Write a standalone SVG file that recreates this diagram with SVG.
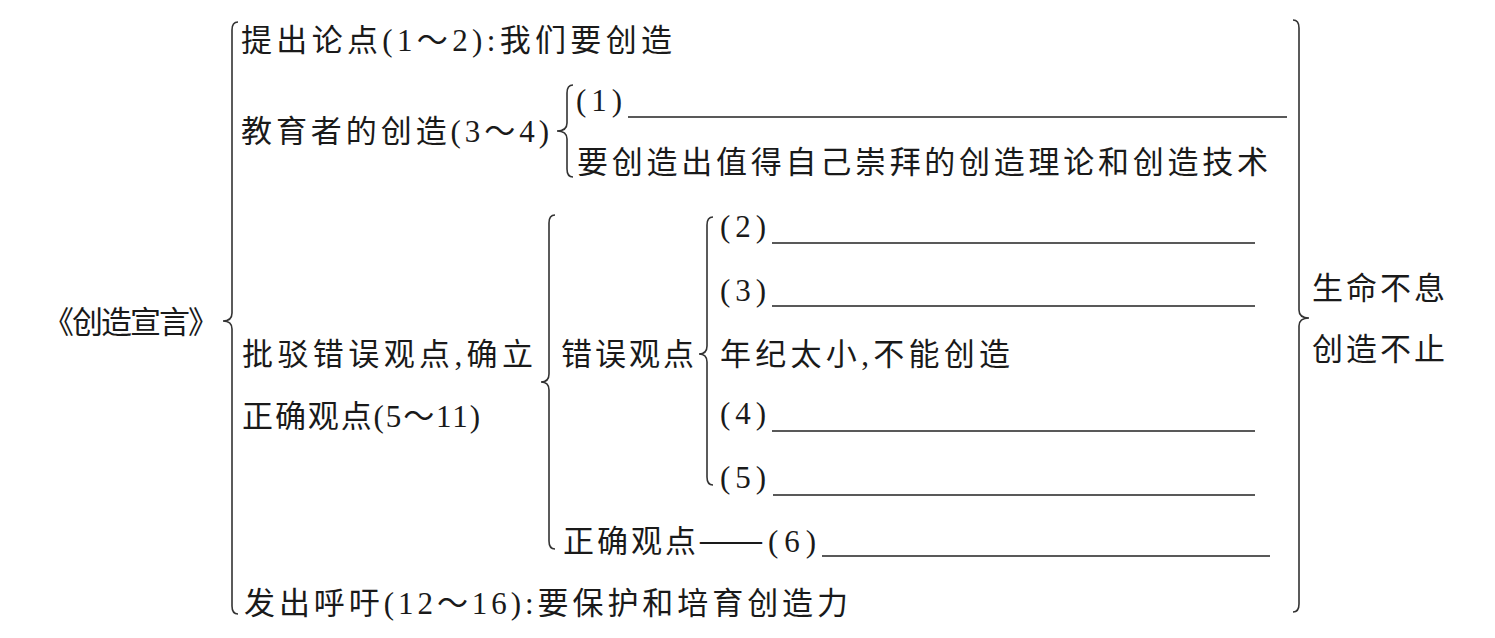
<svg xmlns="http://www.w3.org/2000/svg" width="1495" height="638" viewBox="0 0 1495 638">
<style>
text{font-family:"Liberation Serif","Noto Sans CJK SC",serif;font-size:31px;fill:#1a1a1a}
.brace{fill:none;stroke:#333;stroke-width:1.6}
.blank{stroke:#222;stroke-width:1.6}
</style>
<rect width="1495" height="638" fill="#fff"/>
<g id="connectors">
<path class="brace" d="M238 22 Q232 22 232 30 L232 313 Q232 321 223 321 Q232 321 232 329 L232 606 Q232 614 238 614"/>
<path class="brace" d="M573 85 Q567 85 567 93 L567 123 Q567 131 557 131 Q567 131 567 139 L567 169 Q567 177 573 177"/>
<path class="brace" d="M555 215 Q549 215 549 223 L549 374 Q549 382 541 382 Q549 382 549 390 L549 541 Q549 549 555 549"/>
<path class="brace" d="M713 217 Q707 217 707 225 L707 346 Q707 354 699 354 Q707 354 707 362 L707 477 Q707 485 713 485"/>
<path class="brace" d="M1293 20 Q1299 20 1299 28 L1299 310 Q1299 318 1309 318 Q1299 318 1299 326 L1299 604 Q1299 612 1293 612"/>
</g>
<g id="root"><text x="43" y="333" textLength="176" lengthAdjust="spacing">《创造宣言》</text></g>
<g id="n-tichu"><text x="241" y="51" textLength="431" lengthAdjust="spacing">提出论点(1～2):我们要创造</text></g>
<g id="n-jiaoyu"><text x="241" y="142" textLength="308" lengthAdjust="spacing">教育者的创造(3～4)</text></g>
<g id="n-1"><text x="576" y="111" textLength="46" lengthAdjust="spacing">(1)</text><line class="blank" x1="628" y1="117" x2="1287" y2="117"/></g>
<g id="n-yao"><text x="577" y="173" textLength="691" lengthAdjust="spacing">要创造出值得自己崇拜的创造理论和创造技术</text></g>
<g id="n-pibo"><text x="242" y="365" textLength="291" lengthAdjust="spacing">批驳错误观点,确立</text><text x="242" y="427" textLength="238" lengthAdjust="spacing">正确观点(5～11)</text></g>
<g id="n-cuowu"><text x="561" y="365" textLength="133" lengthAdjust="spacing">错误观点</text></g>
<g id="n-2"><text x="720" y="237" textLength="46" lengthAdjust="spacing">(2)</text><line class="blank" x1="772" y1="243" x2="1255" y2="243"/></g>
<g id="n-3"><text x="720" y="301" textLength="46" lengthAdjust="spacing">(3)</text><line class="blank" x1="772" y1="306" x2="1255" y2="306"/></g>
<g id="n-nianji"><text x="720" y="365" textLength="290" lengthAdjust="spacing">年纪太小,不能创造</text></g>
<g id="n-4"><text x="720" y="424" textLength="46" lengthAdjust="spacing">(4)</text><line class="blank" x1="772" y1="431" x2="1255" y2="431"/></g>
<g id="n-5"><text x="720" y="488" textLength="46" lengthAdjust="spacing">(5)</text><line class="blank" x1="773" y1="495" x2="1255" y2="495"/></g>
<g id="n-zhengque"><text x="563" y="552" textLength="133" lengthAdjust="spacing">正确观点</text><text x="698" y="552" textLength="66" lengthAdjust="spacingAndGlyphs" style="font-family:'Noto Sans CJK SC',sans-serif">——</text><text x="768" y="552" textLength="48" lengthAdjust="spacing">(6)</text><line class="blank" x1="822" y1="556" x2="1270" y2="556"/></g>
<g id="n-fachu"><text x="244" y="614" textLength="604" lengthAdjust="spacing">发出呼吁(12～16):要保护和培育创造力</text></g>
<g id="n-shengming"><text x="1312" y="299" textLength="133" lengthAdjust="spacing">生命不息</text><text x="1312" y="360" textLength="133" lengthAdjust="spacing">创造不止</text></g>
</svg>
